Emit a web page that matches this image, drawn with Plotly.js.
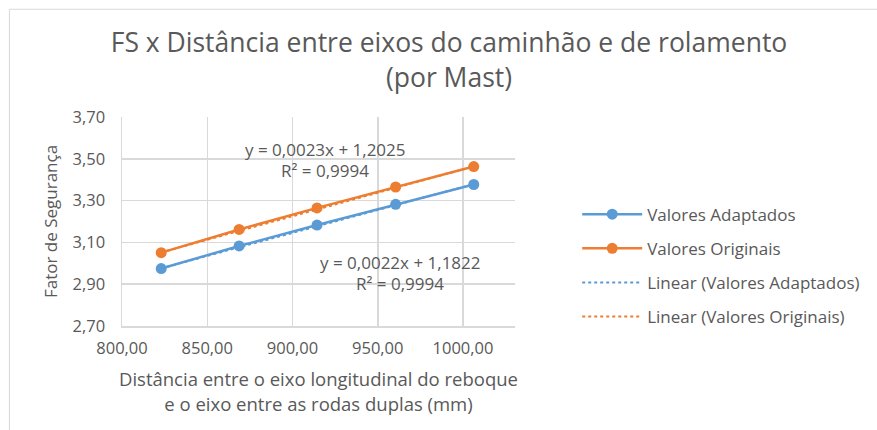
<!DOCTYPE html>
<html>
<head>
<meta charset="utf-8">
<script src="https://cdn.plot.ly/plotly-3.0.1.min.js"></script>
<style>
  html, body { margin: 0; padding: 0; background: #ffffff; }
  #chart { width: 877px; height: 430px; }
</style>
</head>
<body>
<div id="chart"></div>
<script>
// Data
const distancia = [823.0, 868.7, 914.4, 960.5, 1006.3];
const valoresAdaptados = [2.975, 3.083, 3.183, 3.282, 3.377];
const valoresOriginais = [3.051, 3.162, 3.265, 3.365, 3.463];

// Linear trendline end points
const trendX = [823.0, 1006.3];
const trendAdaptados = [2.976, 3.379];
const trendOriginais = [3.052, 3.464];

const eqOriginais = ["y = 0,0023x + 1,2025", "R² = 0,9994"];
const eqAdaptados = ["y = 0,0022x + 1,1822", "R² = 0,9994"];

const yTicks = [2.70, 2.90, 3.10, 3.30, 3.50, 3.70];
const yTickLabels = ["2,70", "2,90", "3,10", "3,30", "3,50", "3,70"];
const xTicks = [800, 850, 900, 950, 1000];
const xTickLabels = ["800,00", "850,00", "900,00", "950,00", "1000,00"];

const blue = "#5B9BD5";
const orange = "#ED7D31";
const txt = "#595959";
const FONT = "'Open Sans', 'Noto Sans', sans-serif";

// plot-area pixel box (used only to place annotations/legend/frame)
const PL = 122, PR = 520, PT = 117, PB = 326.5;
const px = v => (v - PL) / (PR - PL);
const py = v => (PB - v) / (PB - PT);

const traces = [
  { x: trendX, y: trendAdaptados, name: "Linear (Valores Adaptados)", type: "scatter", mode: "lines",
    line: { color: blue, width: 2, dash: "dot" }, legendgroup: "c", legendrank: 3 },
  { x: trendX, y: trendOriginais, name: "Linear (Valores Originais)", type: "scatter", mode: "lines",
    line: { color: orange, width: 2, dash: "dot" }, legendgroup: "d", legendrank: 4 },
  { x: distancia, y: valoresAdaptados, name: "Valores Adaptados", type: "scatter", mode: "lines+markers",
    line: { color: blue, width: 2.5 }, marker: { color: blue, size: 11 }, legendgroup: "a", legendrank: 1 },
  { x: distancia, y: valoresOriginais, name: "Valores Originais", type: "scatter", mode: "lines+markers",
    line: { color: orange, width: 2.5 }, marker: { color: orange, size: 11 }, legendgroup: "b", legendrank: 2 }
];

const annos = [
  { x: 328, y: 150, text: eqOriginais[0] },
  { x: 328, y: 171, text: eqOriginais[1] },
  { x: 404, y: 263, text: eqAdaptados[0] },
  { x: 404, y: 284, text: eqAdaptados[1] }
].map(a => ({ x: px(a.x), y: py(a.y), xref: "paper", yref: "paper", text: a.text,
              showarrow: false, xanchor: "center", yanchor: "middle",
              font: { family: FONT, size: 17, color: txt } }));

const layout = {
  width: 877, height: 430,
  paper_bgcolor: "#ffffff", plot_bgcolor: "#ffffff",
  font: { family: FONT, color: txt, size: 14 },
  margin: { l: PL, r: 877 - PR, t: PT, b: 430 - PB },
  title: { text: "FS x Distância entre eixos do caminhão e de rolamento<br>(por Mast)",
           font: { family: FONT, size: 26.5, color: txt }, x: 449 / 877, xanchor: "center",
           y: 0.878, yanchor: "top" },
  xaxis: {
    range: [800, 1030.5], tickvals: xTicks, ticktext: xTickLabels,
    showgrid: true, gridcolor: "#D9D9D9", gridwidth: 1.5, zeroline: false,
    showline: true, linecolor: "#D9D9D9", linewidth: 1.5, ticks: "",
    tickfont: { size: 16.5, color: txt }, ticklabelstandoff: 7,
    title: { text: "Distância entre o eixo longitudinal do reboque<br>e o eixo entre as rodas duplas (mm)",
             font: { size: 18.5, color: txt }, standoff: 15 }
  },
  yaxis: {
    range: [2.70, 3.70], tickvals: yTicks, ticktext: yTickLabels,
    showgrid: true, gridcolor: "#D9D9D9", gridwidth: 1.5, zeroline: false,
    showline: true, linecolor: "#D9D9D9", linewidth: 1.5, ticks: "",
    tickfont: { size: 16.5, color: txt }, ticklabelstandoff: 12,
    title: { text: "Fator de Segurança", font: { size: 17, color: txt }, standoff: 10 }
  },
  showlegend: true,
  legend: { x: px(583), xanchor: "left", y: py(266), yanchor: "middle",
            font: { size: 17, color: txt }, traceorder: "grouped", tracegroupgap: 9,
            itemwidth: 60, bgcolor: "rgba(0,0,0,0)" },
  annotations: annos,
  shapes: [
    { type: "rect", xref: "paper", yref: "paper", x0: px(8), x1: px(1000), y0: py(1000), y1: py(9),
      line: { color: "#D9D9D9", width: 1 } }
  ]
};

Plotly.newPlot("chart", traces, layout, { displayModeBar: false, staticPlot: true });
</script>
</body>
</html>
